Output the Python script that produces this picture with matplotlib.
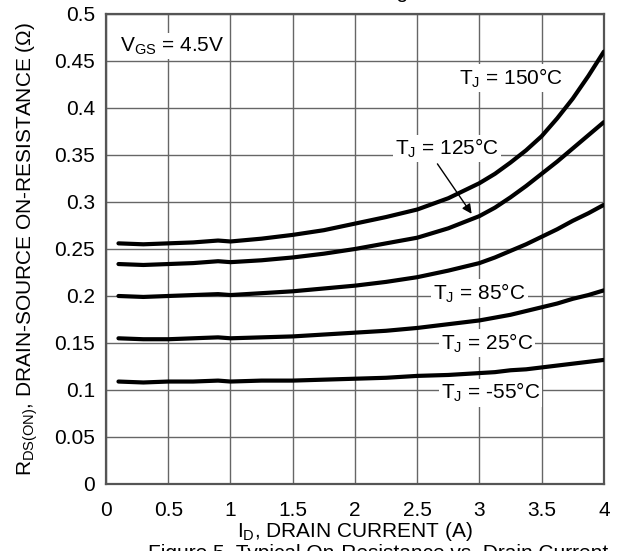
import numpy as np
import matplotlib
matplotlib.use("Agg")
import matplotlib.pyplot as plt

plt.rcParams['font.family'] = ['Liberation Sans', 'DejaVu Sans']
plt.rcParams['mathtext.fontset'] = 'custom'
plt.rcParams['mathtext.rm'] = 'Liberation Sans'
plt.rcParams['mathtext.it'] = 'Liberation Sans'

# drain current (A)
i_d = [0.1, 0.3, 0.5, 0.7, 0.9, 1.0, 1.25, 1.5, 1.75, 2.0, 2.25, 2.5, 2.75, 3.0,
       3.125, 3.25, 3.375, 3.5, 3.625, 3.75, 3.875, 4.0]

# on-resistance (ohm) per junction temperature
r_150 = [0.256, 0.255, 0.256, 0.257, 0.259, 0.258, 0.261, 0.265, 0.270, 0.277, 0.284, 0.292, 0.304, 0.320,
         0.330, 0.342, 0.355, 0.370, 0.389, 0.410, 0.434, 0.460]
r_125 = [0.234, 0.233, 0.234, 0.235, 0.237, 0.236, 0.238, 0.241, 0.245, 0.250, 0.256, 0.262, 0.272, 0.285,
         0.294, 0.305, 0.317, 0.330, 0.343, 0.357, 0.371, 0.385]
r_85 = [0.200, 0.199, 0.200, 0.201, 0.202, 0.201, 0.203, 0.205, 0.208, 0.211, 0.215, 0.220, 0.227, 0.235,
        0.241, 0.248, 0.255, 0.263, 0.271, 0.280, 0.288, 0.297]
r_25 = [0.155, 0.154, 0.154, 0.155, 0.156, 0.155, 0.156, 0.157, 0.159, 0.161, 0.163, 0.166, 0.170, 0.174,
        0.177, 0.180, 0.184, 0.188, 0.192, 0.197, 0.201, 0.206]
r_m55 = [0.109, 0.108, 0.109, 0.109, 0.110, 0.109, 0.110, 0.110, 0.111, 0.112, 0.113, 0.115, 0.116, 0.118,
         0.119, 0.121, 0.122, 0.124, 0.126, 0.128, 0.130, 0.132]

fig = plt.figure(figsize=(6.2, 5.51), dpi=100)
ax = fig.add_axes([0.171, 0.1216, 0.803, 0.853])

for r in [r_150, r_125, r_85, r_25, r_m55]:
    ax.plot(i_d, r, color='black', lw=3, solid_capstyle='round', solid_joinstyle='round', zorder=3)

fs = 15
ax.set_xlim(0, 4)
ax.set_ylim(0, 0.5)
ax.set_xticks(np.arange(0, 4.01, 0.5))
ax.set_xticklabels(['0', '0.5', '1', '1.5', '2', '2.5', '3', '3.5', '4'])
ax.set_yticks(np.arange(0, 0.501, 0.05))
ax.set_yticklabels(['0', '0.05', '0.1', '0.15', '0.2', '0.25', '0.3', '0.35', '0.4', '0.45', '0.5'])
ax.tick_params(length=0, labelsize=fs)
ax.tick_params(axis='y', pad=8)
ax.tick_params(axis='x', pad=12)
ax.grid(True, color='#666666', lw=1.0)
ax.set_axisbelow(True)
for s in ax.spines.values():
    s.set_color('#555555')
    s.set_linewidth(1.6)

ax.set_xlabel(r'I$_\mathrm{D}$, DRAIN CURRENT (A)', fontsize=fs, labelpad=0)
ax.set_ylabel(r'R$_\mathrm{DS(ON)}$, DRAIN-SOURCE ON-RESISTANCE ($\Omega$)', fontsize=fs, labelpad=10)

box = dict(facecolor='white', edgecolor='none', pad=1.5)
kw = dict(fontsize=fs, ha='center', va='center', bbox=box, zorder=4)
ax.text(0.53, 0.466, r'V$_\mathrm{GS}$ = 4.5V', **kw)
ax.text(3.25, 0.432, r'T$_\mathrm{J}$ = 150°C', **kw)
ax.text(2.74, 0.357, r'T$_\mathrm{J}$ = 125°C', **kw)
ax.text(3.0, 0.203, r'T$_\mathrm{J}$ = 85°C', **kw)
ax.text(3.06, 0.150, r'T$_\mathrm{J}$ = 25°C', **kw)
ax.text(3.09, 0.097, r'T$_\mathrm{J}$ = -55°C', **kw)
ax.annotate('', xy=(2.95, 0.285), xytext=(2.65, 0.343),
            arrowprops=dict(arrowstyle='-|>', color='black', lw=1, mutation_scale=14), zorder=4)

fig.text(420 / 620, 1.014, 'Drain Current and Gate Voltage', fontsize=fs, ha='right', va='center')
fig.text(378 / 620, -0.004, 'Figure 5. Typical On-Resistance vs. Drain Current', fontsize=fs, ha='center', va='center')

fig.savefig('out.png', dpi=100)
